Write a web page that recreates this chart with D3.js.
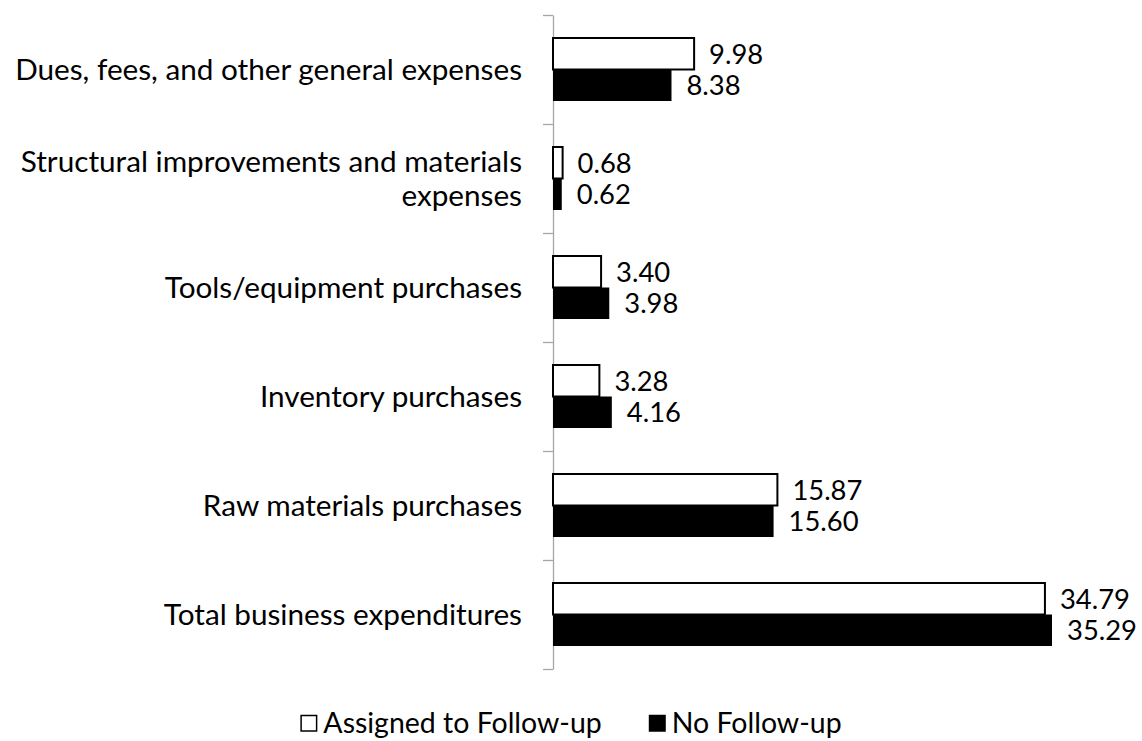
<!DOCTYPE html>
<html>
<head>
<meta charset="utf-8">
<script src="https://cdn.jsdelivr.net/npm/d3@7"></script>
<style>
  body { margin: 0; background: #fff; }
  text { font-family: Lato, "Open Sans", sans-serif; fill: #000; }
</style>
</head>
<body>
<svg id="chart" width="1142" height="741"></svg>
<script>
// data
const categories = [
    "Dues, fees, and other general expenses",
    "Structural improvements and materials expenses",
    "Tools/equipment purchases",
    "Inventory purchases",
    "Raw materials purchases",
    "Total business expenditures"
];
const seriesNames = ["Assigned to Follow-up", "No Follow-up"];
const followUpValues = [9.98, 0.68, 3.40, 3.28, 15.87, 34.79];
const noFollowUpValues = [8.38, 0.62, 3.98, 4.16, 15.60, 35.29];

const series = [
    { name: seriesNames[0], values: followUpValues, fill: "#ffffff", stroke: "#000" },
    { name: seriesNames[1], values: noFollowUpValues, fill: "#000000", stroke: "none" }
];

const svg = d3.select("#chart");

// measure text so the fallback font matches the reference widths
function fitSize(str, targetWidth) {
    const t = svg.append("text").attr("font-size", 100).text(str);
    const w = t.node().getComputedTextLength();
    t.remove();
    return 100 * targetWidth / w;
}
const labelSize = fitSize(categories[0], 507);
const valueSize = fitSize("34.79", 70);
const legendSize = fitSize(seriesNames.join(""), 448);

const axisX = 553;
const x = d3.scaleLinear()
    .domain([0, 40])
    .range([axisX, axisX + 565.6]);

const y0 = d3.scaleBand()
    .domain(categories)
    .range([15, 669]);

const y1 = d3.scaleBand()
    .domain(seriesNames)
    .range([0, y0.bandwidth()])
    .paddingOuter(0.73);

// axis with ticks on category boundaries
const yEdge = d3.scaleLinear().domain([0, categories.length]).range([15, 669]);
const axis = svg.append("g")
    .attr("transform", "translate(" + axisX + ",0)")
    .call(d3.axisLeft(yEdge).ticks(categories.length).tickSize(10).tickSizeOuter(0).tickFormat(""));
axis.selectAll("path, line").attr("stroke", "#a6a6a6").attr("stroke-width", 1.3);

// bars
series.forEach(function(s) {
    svg.append("g").selectAll("rect")
        .data(s.values)
        .enter().append("rect")
        .attr("x", x(0))
        .attr("y", (d, i) => y0(categories[i]) + y1(s.name))
        .attr("width", d => x(d) - x(0))
        .attr("height", y1.bandwidth())
        .attr("fill", s.fill)
        .attr("stroke", s.stroke)
        .attr("stroke-width", 2);
});

// value labels
series.forEach(function(s) {
    svg.append("g").selectAll("text")
        .data(s.values)
        .enter().append("text")
        .attr("x", d => x(d) + 15)
        .attr("y", (d, i) => y0(categories[i]) + y1(s.name) + y1.bandwidth() / 2)
        .attr("dy", "0.36em")
        .attr("font-size", valueSize)
        .text(d => d.toFixed(2));
});

// category labels, wrapped like the original
const labelG = svg.append("g");
categories.forEach(function(c) {
    const t = labelG.append("text")
        .attr("text-anchor", "end")
        .attr("font-size", labelSize);
    const words = c.split(" ");
    let lines = [], line = [];
    words.forEach(function(w) {
        line.push(w);
        t.text(line.join(" "));
        if (t.node().getComputedTextLength() > 520 && line.length > 1) {
            line.pop();
            lines.push(line.join(" "));
            line = [w];
        }
    });
    lines.push(line.join(" "));
    t.text(null);
    const lineH = 34;
    const cy = y0(c) + y0.bandwidth() / 2;
    lines.forEach(function(l, i) {
        t.append("tspan")
            .attr("x", 522)
            .attr("y", cy + (i - (lines.length - 1) / 2) * lineH)
            .attr("dy", "0.36em")
            .text(l);
    });
});

// legend, centred under the chart
const legend = svg.append("g");
const box = 17, boxGap = 6, itemGap = 47, legendBase = 733;
const items = series.map(function(s) {
    const t = legend.append("text").attr("font-size", legendSize).text(s.name);
    return { s: s, t: t, w: t.node().getComputedTextLength() };
});
const total = d3.sum(items, d => box + boxGap + d.w) + itemGap * (items.length - 1);
let lx = 571 - total / 2;
items.forEach(function(it) {
    legend.append("rect")
        .attr("x", lx + 0.75)
        .attr("y", legendBase - box - 0.5)
        .attr("width", box - 1.5)
        .attr("height", box - 1.5)
        .attr("fill", it.s.fill)
        .attr("stroke", "#000")
        .attr("stroke-width", 1.5);
    it.t.attr("x", lx + box + boxGap)
        .attr("y", legendBase);
    lx += box + boxGap + it.w + itemGap;
});
</script>
</body>
</html>
